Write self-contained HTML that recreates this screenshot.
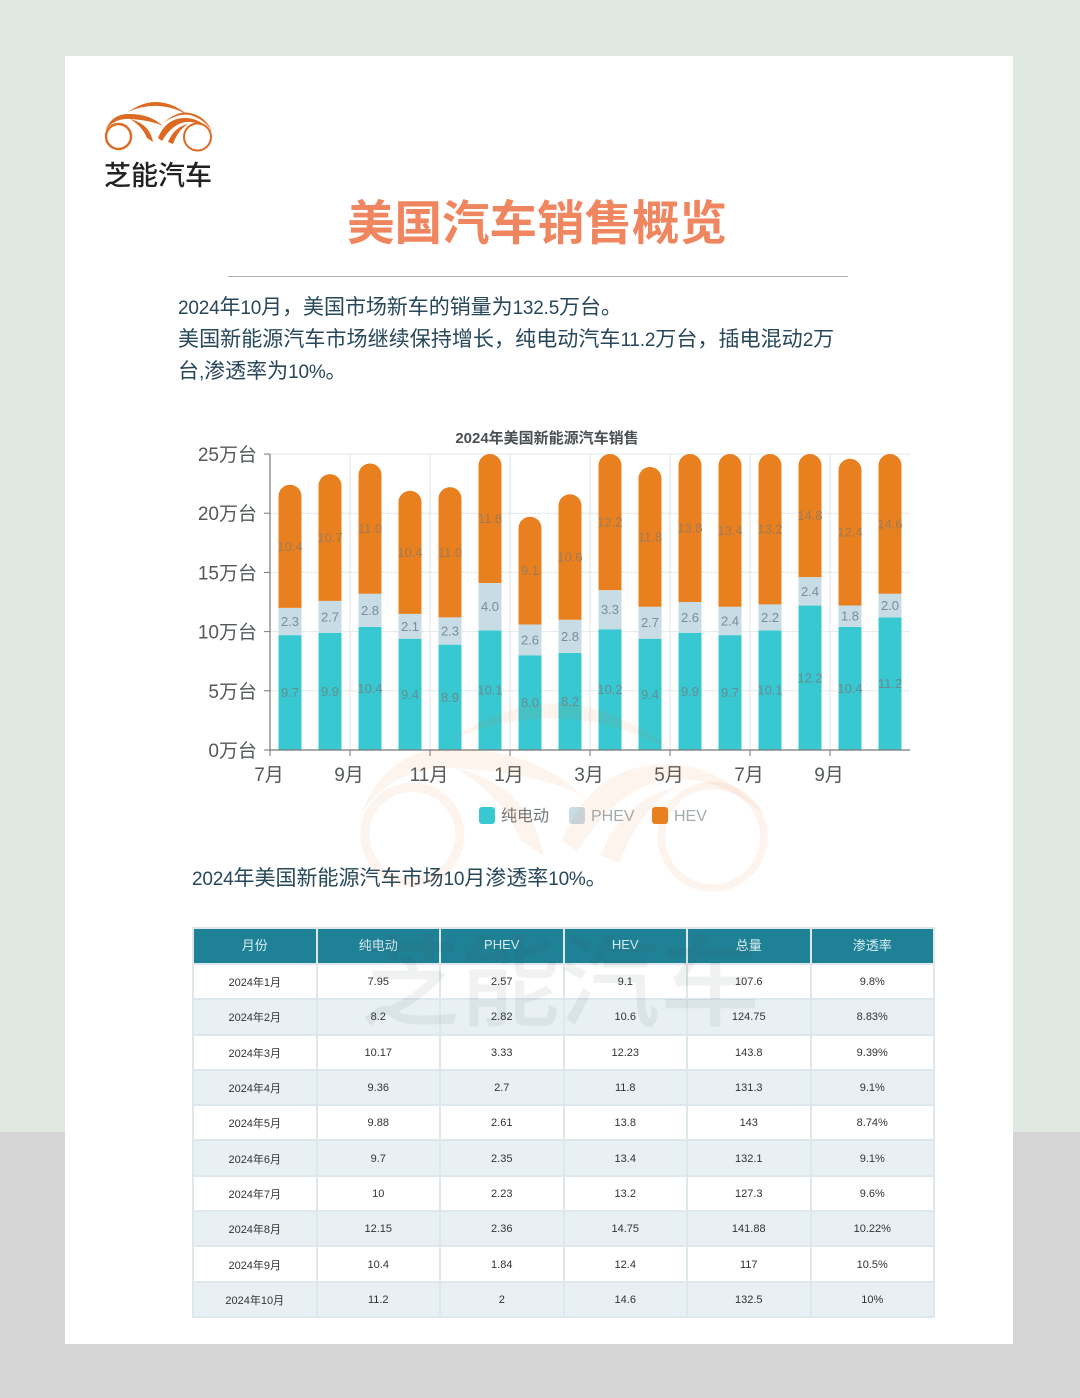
<!DOCTYPE html>
<html lang="zh">
<head>
<meta charset="utf-8">
<title>美国汽车销售概览</title>
<style>
html,body{margin:0;padding:0;}
body{width:1080px;height:1398px;position:relative;overflow:hidden;background:#dfe8e0;font-family:"Liberation Sans","Noto Sans CJK SC",sans-serif;}
.abs{position:absolute;}
#lower-band{left:0;top:1132px;width:1080px;height:266px;background:#d5d5d5;}
#card{left:65px;top:56px;width:948px;height:1288px;background:#fff;}
#brand{left:104px;top:159px;width:110px;font-size:27px;line-height:34px;font-weight:500;color:#222;white-space:nowrap;}
#title{left:227px;top:194px;width:620px;text-align:center;font-size:47.5px;line-height:62px;font-weight:700;color:#f0865f;white-space:nowrap;}
#rule{left:228px;top:276px;width:620px;height:1px;background:#a9b2b4;}
.para{font-size:21px;line-height:32px;color:#27475a;white-space:nowrap;font-weight:400;}
.para .n{font-size:19px;letter-spacing:-0.2px;}
#data-table{left:192px;top:927px;width:743px;height:391px;border-collapse:separate;border-spacing:2px;table-layout:fixed;background:#dde7ec;}
#data-table th{background:#1f8196;color:#d8eef2;font-weight:400;font-size:13px;height:31px;padding:0 0 3px;text-align:center;}
#data-table td{font-size:11px;color:#333;text-align:center;padding:1px 0 0;height:32px;background:#fff;}
#data-table tr.s td{background:#e8f0f4;}
#watermark-text{left:360px;top:919px;font-size:100px;line-height:130px;color:rgba(70,80,80,.08);font-weight:500;white-space:nowrap;pointer-events:none;}
svg{position:absolute;left:0;top:0;}
</style>
</head>
<body>
<div class="abs" id="lower-band"></div>
<div class="abs" id="card"></div>

<svg width="1080" height="300" viewBox="0 0 1080 300">
  <g id="logo-mark" fill="#dd6a22" stroke="none">
    <circle cx="118.5" cy="136.5" r="12.5" fill="none" stroke="#dd6a22" stroke-width="2.4"/>
    <circle cx="197.5" cy="137" r="13.5" fill="none" stroke="#dd6a22" stroke-width="2"/>
    <path d="M128 112 Q158 90.5 188 115 Q158 98.5 128 112Z"/>
    <path d="M105 131 Q112 113 130 114 Q150 114 163 126 Q150 120 130 119 Q114 118 105 131Z"/>
    <path d="M130 119 Q150 124 153 142 L147 138 Q142 126 130 119Z"/>
    <path d="M158 138 Q166 118 185 118 Q200 118 212 132 Q200 121 186 122 Q172 124 162 141Z"/>
    <path d="M168 142 Q174 127 188 124 Q178 130 173 144Z"/>
    <path d="M163 123 Q178 110 190 113 Q205 116 212 131 Q204 119 190 115 Q178 113 163 123Z"/>
  </g>
</svg>
<div class="abs" id="brand">芝能汽车</div>
<div class="abs" id="title">美国汽车销售概览</div>
<div class="abs" id="rule"></div>

<div class="abs para" style="left:178px;top:292px;letter-spacing:-0.05px;"><span class="n">2024</span>年<span class="n">10</span>月，美国市场新车的销量为<span class="n">132.5</span>万台。</div>
<div class="abs para" style="left:178px;top:324px;letter-spacing:0.07px;">美国新能源汽车市场继续保持增长，纯电动汽车<span class="n">11.2</span>万台，插电混动<span class="n">2</span>万</div>
<div class="abs para" style="left:178px;top:356px;">台<span class="n">,</span>渗透率为<span class="n">10%</span>。</div>

<svg id="chart" width="1080" height="860" viewBox="0 0 1080 860"></svg>

<div class="abs para" style="left:192px;top:863px;"><span class="n">2024</span>年美国新能源汽车市场<span class="n">10</span>月渗透率<span class="n">10%</span>。</div>

<table class="abs" id="data-table">
<thead><tr>
<th>月份</th>
<th>纯电动</th>
<th>PHEV</th>
<th>HEV</th>
<th>总量</th>
<th>渗透率</th>
</tr></thead>
<tbody>
<tr><td>2024年1月</td><td>7.95</td><td>2.57</td><td>9.1</td><td>107.6</td><td>9.8%</td></tr>
<tr class="s"><td>2024年2月</td><td>8.2</td><td>2.82</td><td>10.6</td><td>124.75</td><td>8.83%</td></tr>
<tr><td>2024年3月</td><td>10.17</td><td>3.33</td><td>12.23</td><td>143.8</td><td>9.39%</td></tr>
<tr class="s"><td>2024年4月</td><td>9.36</td><td>2.7</td><td>11.8</td><td>131.3</td><td>9.1%</td></tr>
<tr><td>2024年5月</td><td>9.88</td><td>2.61</td><td>13.8</td><td>143</td><td>8.74%</td></tr>
<tr class="s"><td>2024年6月</td><td>9.7</td><td>2.35</td><td>13.4</td><td>132.1</td><td>9.1%</td></tr>
<tr><td>2024年7月</td><td>10</td><td>2.23</td><td>13.2</td><td>127.3</td><td>9.6%</td></tr>
<tr class="s"><td>2024年8月</td><td>12.15</td><td>2.36</td><td>14.75</td><td>141.88</td><td>10.22%</td></tr>
<tr><td>2024年9月</td><td>10.4</td><td>1.84</td><td>12.4</td><td>117</td><td>10.5%</td></tr>
<tr class="s"><td>2024年10月</td><td>11.2</td><td>2</td><td>14.6</td><td>132.5</td><td>10%</td></tr>
</tbody>
</table>

<svg width="1080" height="1398" viewBox="0 0 1080 1398" style="pointer-events:none">
  <g transform="translate(-38 316) scale(3.8)" fill="#e8762c" fill-opacity=".08" stroke="none">
    <circle cx="118.5" cy="136.5" r="12.5" fill="none" stroke="#e8762c" stroke-opacity=".08" stroke-width="2.4"/>
    <circle cx="197.5" cy="137" r="13.5" fill="none" stroke="#e8762c" stroke-opacity=".08" stroke-width="2"/>
    <path d="M128 112 Q158 90.5 188 115 Q158 98.5 128 112Z"/>
    <path d="M105 131 Q112 113 130 114 Q150 114 163 126 Q150 120 130 119 Q114 118 105 131Z"/>
    <path d="M130 119 Q150 124 153 142 L147 138 Q142 126 130 119Z"/>
    <path d="M158 138 Q166 118 185 118 Q200 118 212 132 Q200 121 186 122 Q172 124 162 141Z"/>
    <path d="M168 142 Q174 127 188 124 Q178 130 173 144Z"/>
  </g>
</svg>
<div class="abs" id="watermark-text">芝能汽车</div>

<script>
const categories = ['7月','8月','9月','10月','11月','12月','1月','2月','3月','4月','5月','6月','7月','8月','9月','10月'];
const bevValues = [9.7,9.9,10.4,9.4,8.9,10.1,8.0,8.2,10.2,9.4,9.9,9.7,10.1,12.2,10.4,11.2];
const phevValues = [2.3,2.7,2.8,2.1,2.3,4.0,2.6,2.8,3.3,2.7,2.6,2.4,2.2,2.4,1.8,2.0];
const hevValues = [10.4,10.7,11.0,10.4,11.0,11.8,9.1,10.6,12.2,11.8,13.8,13.4,13.2,14.8,12.4,14.6];
const yTicks = [0,5,10,15,20,25];
const yTickSuffix = '万台';
const chartTitle = '2024年美国新能源汽车销售';

const NS = 'http://www.w3.org/2000/svg';
const svg = document.getElementById('chart');
const plot = {left:270, right:910, top:454, bottom:750};
const yMax = yTicks[yTicks.length - 1];
const band = (plot.right - plot.left) / categories.length;
const barW = 23;
function xBand(i){ return plot.left + band * i; }
function xCenter(i){ return xBand(i) + band / 2; }
function yScale(v){ return plot.bottom - Math.min(v, yMax) / yMax * (plot.bottom - plot.top); }
function make(tag, attrs, text){
  const el = document.createElementNS(NS, tag);
  for (const k in attrs) el.setAttribute(k, attrs[k]);
  if (text !== undefined) el.textContent = text;
  svg.appendChild(el);
  return el;
}

const titleEl = make('text', {x:547, y:443, 'text-anchor':'middle', 'font-size':15, 'font-weight':700, fill:'#4a4f52'}, chartTitle);



yTicks.forEach(function(t){
  const y = yScale(t);
  if (t > 0) {
    const grid = make('line', {x1:plot.left, x2:plot.right, y1:y, y2:y, stroke:'#e3e8ea', 'stroke-width':1});
    
    
  }
  const tick = make('line', {x1:plot.left - 6, x2:plot.left, y1:y, y2:y, stroke:'#777', 'stroke-width':1});
  
  
  const label = make('text', {x:plot.left - 13, y:y + 7, 'text-anchor':'end', 'font-size':19, fill:'#53585b'}, t + yTickSuffix);
  
  
});

categories.forEach(function(c, i){
  if (i % 2 !== 0) return;
  const x = xBand(i);
  if (i > 0) {
    const grid = make('line', {x1:x, x2:x, y1:plot.top, y2:plot.bottom, stroke:'#dfe3e6', 'stroke-width':1});
    
    
  }
  const tick = make('line', {x1:x, x2:x, y1:plot.bottom, y2:plot.bottom + 6, stroke:'#777', 'stroke-width':1});
  
  
  const label = make('text', {x:x - 1, y:plot.bottom + 31, 'text-anchor':'middle', 'font-size':19, fill:'#53585b'}, c);
  
  
});

const axisY = make('line', {x1:plot.left, x2:plot.left, y1:plot.top, y2:plot.bottom, stroke:'#777', 'stroke-width':1.2});



categories.forEach(function(c, i){
  const cx = xCenter(i), l = cx - barW / 2;
  const s0 = bevValues[i], s1 = s0 + phevValues[i], s2 = s1 + hevValues[i];
  const y0 = yScale(0), y1 = yScale(s0), y2 = yScale(s1), y3 = yScale(s2);
  const bev = make('rect', {x:l, y:y1, width:barW, height:y0 - y1, fill:'#38c8d1'});
  
  
  const phev = make('rect', {x:l, y:y2, width:barW, height:y1 - y2, fill:'#c7dce5'});
  
  
  const r = Math.min(barW / 2, y2 - y3);
  const hev = make('path', {d:'M' + l + ' ' + y2 + 'V' + (y3 + r) + 'A' + r + ' ' + r + ' 0 0 1 ' + (l + r) + ' ' + y3 + 'H' + (l + barW - r) + 'A' + r + ' ' + r + ' 0 0 1 ' + (l + barW) + ' ' + (y3 + r) + 'V' + y2 + 'Z', fill:'#e8801f'});
  
  
  const a = make('text', {x:cx, y:(y0 + y1) / 2 + 4.5, 'text-anchor':'middle', 'font-size':13, fill:'#6a8a8e'}, bevValues[i].toFixed(1));
  
  
  const b = make('text', {x:cx, y:(y1 + y2) / 2 + 4.5, 'text-anchor':'middle', 'font-size':13, fill:'#7d8c94'}, phevValues[i].toFixed(1));
  
  
  const d = make('text', {x:cx, y:(y2 + y3) / 2 + 4.5, 'text-anchor':'middle', 'font-size':13, fill:'#a07a55'}, hevValues[i].toFixed(1));
  
  
});

const axisX = make('line', {x1:plot.left, x2:plot.right, y1:plot.bottom, y2:plot.bottom, stroke:'#777', 'stroke-width':1.2});



const swatch1 = make('rect', {x:479, y:807, width:16, height:17, rx:3, fill:'#38c8d1'});


const legend1 = make('text', {x:501, y:821, 'font-size':16, fill:'#6f7578'}, '纯电动');


const swatch2 = make('rect', {x:569, y:807, width:16, height:17, rx:3, fill:'#c7dce5'});


const legend2 = make('text', {x:591, y:821, 'font-size':16, fill:'#a3abaf'}, 'PHEV');


const swatch3 = make('rect', {x:652, y:807, width:16, height:17, rx:3, fill:'#e8801f'});


const legend3 = make('text', {x:674, y:821, 'font-size':16, fill:'#a3abaf'}, 'HEV');


</script>
</body>
</html>
